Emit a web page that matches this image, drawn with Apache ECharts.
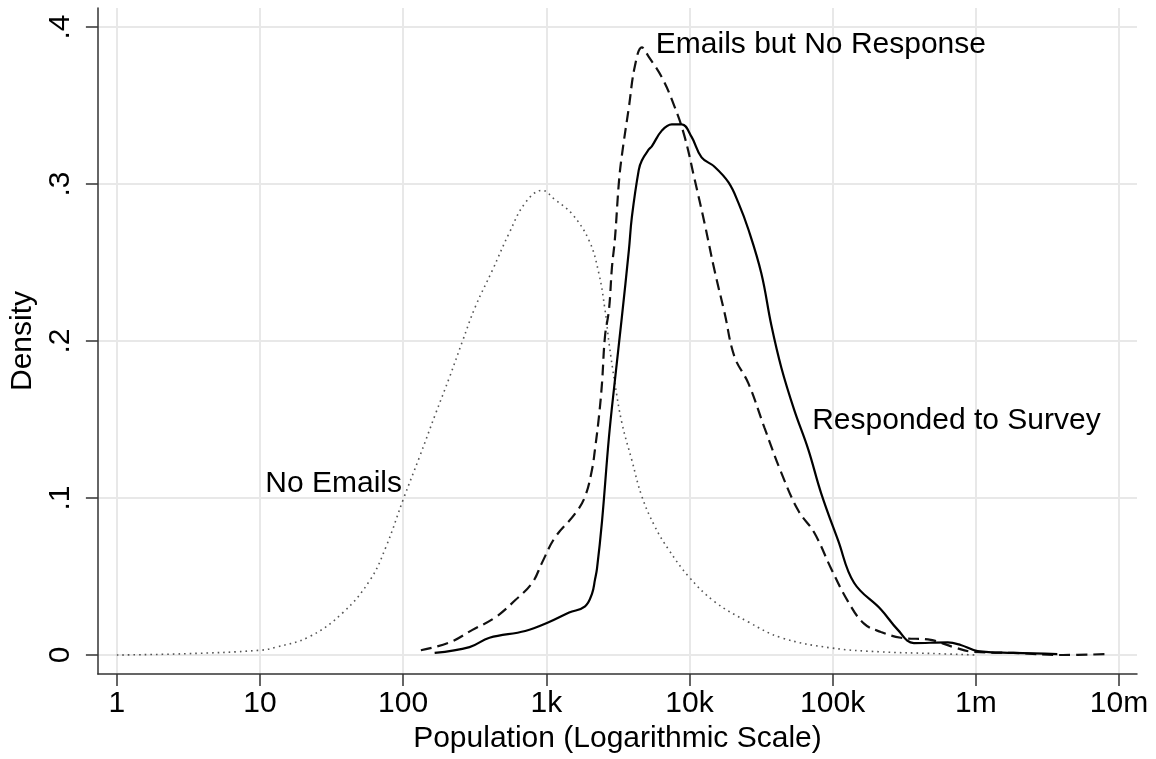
<!DOCTYPE html>
<html>
<head>
<meta charset="utf-8">
<title>Population density by email status</title>
<script src="https://cdn.jsdelivr.net/npm/echarts@6/dist/echarts.min.js"></script>
<style>
  html, body { margin: 0; padding: 0; background: #fff; }
  #chart { width: 1156px; height: 759px; }
</style>
</head>
<body>
<div id="chart"></div>
<script>
// tick labels (x axis is log10 of population)
const xTickValues = [0, 1, 2, 3, 4, 5, 6, 7];
const xTickLabels = ["1", "10", "100", "1k", "10k", "100k", "1m", "10m"];
const yTickValues = [0, 0.1, 0.2, 0.3, 0.4];
const yTickLabels = ["0", ".1", ".2", ".3", ".4"];

// No Emails (dotted)
const noEmailsPop = [1, 3, 10, 13, 22, 38, 59, 76, 101, 130, 169, 211, 260, 320, 420, 552, 713, 936,
  1150, 1510, 1990, 2330, 2570, 2740, 3015, 3370, 3960, 4650, 5720, 7170, 9870, 14960, 25810,
  43840, 97660, 217600, 485100, 1010000];
const noEmailsDensity = [0, 0.0008, 0.003, 0.005, 0.0115, 0.027, 0.048, 0.069, 0.1, 0.126, 0.154,
  0.177, 0.2, 0.222, 0.245, 0.269, 0.288, 0.296, 0.29, 0.281, 0.264, 0.243, 0.22, 0.199, 0.173,
  0.148, 0.124, 0.101, 0.082, 0.067, 0.05, 0.034, 0.021, 0.011, 0.0045, 0.002, 0.001, 0];

// Emails but No Response (dashed)
const noResponsePop = [133, 211, 305, 441, 608, 798, 936, 1153, 1589, 1866, 2085, 2188, 2333, 2449,
  2570, 2741, 2875, 3015, 3214, 3370, 3776, 4155, 4649, 5200, 6408, 7890, 9260, 10860, 12750,
  14960, 17580, 20630, 25810, 33340, 43840, 57540, 74330, 97660, 128200, 165700, 217600, 299700,
  485100, 701500, 966000, 1830000, 4080000, 8260000];
const noResponseDensity = [0.003, 0.008, 0.016, 0.024, 0.035, 0.046, 0.059, 0.075, 0.09, 0.101,
  0.118, 0.131, 0.152, 0.173, 0.203, 0.22, 0.247, 0.265, 0.301, 0.318, 0.349, 0.375, 0.387, 0.381,
  0.368, 0.349, 0.33, 0.303, 0.275, 0.245, 0.218, 0.19, 0.173, 0.145, 0.116, 0.092, 0.078, 0.055,
  0.034, 0.02, 0.0147, 0.011, 0.0096, 0.005, 0.002, 0.0013, 0, 0.0006];

// Responded to Survey (solid)
const respondedPop = [166, 291, 401, 713, 1047, 1444, 1866, 2085, 2188, 2260, 2449, 2741, 3015, 3370,
  3776, 3961, 4426, 4649, 5200, 5456, 6408, 7521, 8830, 10350, 12150, 14960, 18750, 21980, 25810,
  31790, 37330, 43840, 53970, 67560, 83180, 109200, 141100, 217600, 285600, 369300, 636800,
  784000, 1030000, 1830000, 3710000];
const respondedDensity = [0.0013, 0.005, 0.011, 0.0153, 0.021, 0.027, 0.031, 0.039, 0.048, 0.055,
  0.085, 0.139, 0.175, 0.215, 0.258, 0.279, 0.309, 0.315, 0.322, 0.324, 0.334, 0.338, 0.338, 0.33,
  0.317, 0.311, 0.301, 0.288, 0.271, 0.243, 0.21, 0.183, 0.156, 0.131, 0.103, 0.073, 0.046, 0.029,
  0.016, 0.0076, 0.008, 0.0064, 0.0025, 0.0013, 0.0006];

// curve labels: text, population, density
const labelTexts = ["Emails but No Response", "Responded to Survey", "No Emails"];
const labelPop = [5820, 71960, 10.9];
const labelDensity = [0.389, 0.149, 0.109];

const FONT = "'Liberation Sans', Arial, Helvetica, sans-serif";

function toPoints(pop, dens) {
  return pop.map((p, i) => [Math.log10(p), dens[i]]);
}

const chart = echarts.init(document.getElementById("chart"));

const option = {
  animation: false,
  backgroundColor: "#fff",
  textStyle: { fontFamily: FONT },
  grid: { left: 94, right: 19, top: 8, bottom: 85 },
  xAxis: {
    type: "value",
    min: -0.132,
    max: 7.126,
    name: "Population (Logarithmic Scale)",
    nameLocation: "middle",
    nameGap: 50,
    nameTextStyle: { fontSize: 30, color: "#000", fontFamily: FONT },
    axisLine: { show: true, onZero: false, lineStyle: { color: "#333", width: 1.5 } },
    axisTick: {
      show: true, length: 12, customValues: xTickValues,
      lineStyle: { color: "#333", width: 1.5 }
    },
    axisLabel: {
      customValues: xTickValues,
      margin: 15,
      fontSize: 30,
      color: "#000",
      fontFamily: FONT,
      formatter: v => xTickLabels[Math.round(v)]
    },
    splitLine: { show: true, lineStyle: { color: "#e8e8e8", width: 2 } }
  },
  yAxis: {
    type: "value",
    min: -0.0121,
    max: 0.4121,
    name: "Density",
    nameLocation: "middle",
    nameGap: 55,
    nameTextStyle: { fontSize: 30, color: "#000", fontFamily: FONT },
    axisLine: { show: true, onZero: false, lineStyle: { color: "#333", width: 1.5 } },
    axisTick: {
      show: true, length: 12, customValues: yTickValues,
      lineStyle: { color: "#333", width: 1.5 }
    },
    axisLabel: {
      customValues: yTickValues,
      rotate: 90,
      margin: 22,
      fontSize: 30,
      color: "#000",
      fontFamily: FONT,
      formatter: v => yTickLabels[Math.round(v * 10)]
    },
    splitLine: { show: true, lineStyle: { color: "#e8e8e8", width: 2 } }
  },
  series: [
    {
      name: "No Emails",
      type: "line",
      data: toPoints(noEmailsPop, noEmailsDensity),
      smooth: 0.4,
      showSymbol: false,
      lineStyle: { color: "#555", width: 1.6, type: [1.6, 4] }
    },
    {
      name: "Emails but No Response",
      type: "line",
      data: toPoints(noResponsePop, noResponseDensity),
      smooth: 0.4,
      showSymbol: false,
      lineStyle: { color: "#111", width: 2.2, type: [11, 6] }
    },
    {
      name: "Responded to Survey",
      type: "line",
      data: toPoints(respondedPop, respondedDensity),
      smooth: 0.4,
      showSymbol: false,
      lineStyle: { color: "#000", width: 2.2 }
    },
    {
      name: "labels",
      type: "scatter",
      symbolSize: 0,
      silent: true,
      itemStyle: { opacity: 1 },
      data: labelTexts.map((t, i) => ({ name: t, value: [Math.log10(labelPop[i]), labelDensity[i]] })),
      label: {
        show: true,
        position: "right",
        distance: 0,
        opacity: 1,
        formatter: p => p.name,
        fontSize: 30,
        color: "#000",
        fontFamily: FONT
      }
    }
  ]
};

chart.setOption(option);
</script>
</body>
</html>
